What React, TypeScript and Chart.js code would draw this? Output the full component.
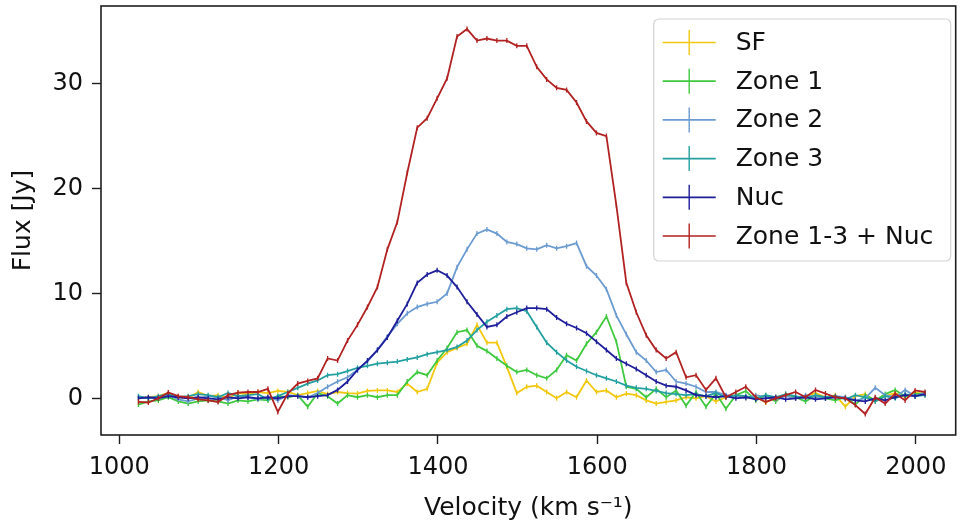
import React, { useEffect, useRef } from "react";
import { Chart, registerables } from "chart.js";

Chart.register(...registerables);

// Velocity channels (km/s)
const velocity = [
  1024, 1036.5, 1049, 1061.5, 1074, 1086.5, 1099, 1111.5, 1124, 1136.5,
  1149, 1161.5, 1174, 1186.5, 1199, 1211.5, 1224, 1236.5, 1249, 1261.5,
  1274, 1286.5, 1299, 1311.5, 1324, 1336.5, 1349, 1361.5, 1374, 1386.5,
  1399, 1411.5, 1424, 1436.5, 1449, 1461.5, 1474, 1486.5, 1499, 1511.5,
  1524, 1536.5, 1549, 1561.5, 1574, 1586.5, 1599, 1611.5, 1624, 1636.5,
  1649, 1661.5, 1674, 1686.5, 1699, 1711.5, 1724, 1736.5, 1749, 1761.5,
  1774, 1786.5, 1799, 1811.5, 1824, 1836.5, 1849, 1861.5, 1874, 1886.5,
  1899, 1911.5, 1924, 1936.5, 1949, 1961.5, 1974, 1986.5, 1999, 2011.5,
];

const sfFlux = [
  0.0, 0.1, 0.2, 0.5, 0.1, 0.0, 0.6, 0.2, 0.3, 0.0,
  0.5, 0.4, 0.6, 0.5, 0.7, 0.6, 0.3, 0.5, 0.7, 0.4,
  0.6, 0.5, 0.45, 0.7, 0.75, 0.75, 0.6, 1.4, 0.6, 0.9,
  3.4, 4.4, 4.8, 5.2, 7.0, 5.3, 5.3, 3.0, 0.5, 1.1,
  1.2, 0.6, 0.0, 0.6, 0.1, 1.7, 0.6, 0.75, 0.1, 0.45,
  0.3, -0.2, -0.5, -0.35, -0.2, 0.1, 0.0, 0.2, -0.3, 0.1,
  0.3, 0.0, 0.2, -0.4, 0.1, 0.3, 0.0, 0.2, 0.5, 0.1,
  0.3, -0.8, 0.2, 0.4, -0.3, 0.2, 0.5, 0.1, 0.6, 0.3,
];

const zone1Flux = [
  -0.6, -0.3, -0.2, 0.1, -0.3, -0.5, -0.3, -0.2, -0.3, -0.5,
  -0.2, -0.3, -0.1, -0.2, 0.2, 0.1, 0.3, -0.8, 0.5, 0.2,
  -0.5, 0.3, 0.1, 0.3, 0.1, 0.3, 0.3, 1.6, 2.5, 2.2,
  3.6, 4.8, 6.3, 6.5, 5.0, 4.5, 3.8, 3.1, 2.5, 2.7,
  2.2, 1.9, 2.7, 4.1, 3.6, 5.2, 6.3, 7.8, 5.4, 1.1,
  0.9, 0.1, 0.9, 0.1, 0.75, -0.7, 0.6, -0.8, 0.45, -1.0,
  0.3, 0.7, -0.2, 0.3, -0.3, 0.4, 0.1, -0.3, 0.3, 0.0,
  -0.2, 0.1, -0.6, 0.3, -0.2, 0.4, 0.8, 0.2, 0.4, 0.5,
];

const zone2Flux = [
  0.1, 0.0, 0.1, 0.3, -0.1, -0.3, 0.0, 0.2, 0.1, -0.2,
  0.2, 0.1, -0.1, 0.1, -0.2, 0.3, 0.2, 0.1, 0.5, 1.1,
  1.6, 2.0, 2.7, 3.5, 4.6, 5.9, 7.1, 8.1, 8.7, 9.0,
  9.2, 10.0, 12.5, 14.2, 15.7, 16.1, 15.7, 14.9, 14.7, 14.3,
  14.2, 14.6, 14.3, 14.5, 14.8, 12.6, 11.7, 10.4, 7.9, 6.1,
  4.4, 3.6, 2.5, 2.7, 1.6, 1.4, 1.1, 0.6, 0.6, 0.3,
  0.2, 0.0, 0.3, 0.1, -0.1, 0.2, 0.0, 0.3, 0.1, 0.0,
  0.2, 0.1, -0.2, 0.0, 1.0, 0.3, 0.1, 0.8, 0.2, 0.5,
];

const zone3Flux = [
  0.2, 0.0, 0.2, 0.4, 0.1, 0.2, 0.4, 0.3, 0.1, 0.5,
  0.2, 0.3, 0.4, -0.1, 0.2, 0.6, 1.0, 1.4, 1.7, 2.2,
  2.3, 2.6, 2.9, 3.1, 3.3, 3.4, 3.5, 3.7, 3.9, 4.2,
  4.4, 4.6, 4.9, 5.5, 6.5, 7.3, 7.9, 8.5, 8.6, 8.3,
  6.8, 5.3, 4.4, 3.6, 3.0, 2.6, 2.2, 1.9, 1.6, 1.2,
  1.0, 0.9, 0.7, 0.5, 0.4, 0.3, 0.4, 0.2, 0.5, 0.1,
  0.3, 0.2, 0.0, 0.3, 0.1, 0.4, 0.2, 0.0, 0.3, 0.1,
  0.2, -0.1, 0.3, 0.1, -0.3, 0.2, 0.0, 0.4, 0.2, 0.3,
];

const nucFlux = [
  0.0, 0.1, 0.0, 0.2, 0.1, 0.0, 0.1, 0.0, -0.1, 0.1,
  0.0, 0.1, 0.0, 0.1, 0.0, 0.2, 0.2, 0.1, 0.2, 0.3,
  0.8, 1.6, 2.7, 3.6, 4.6, 5.8, 7.4, 9.0, 11.0, 11.8,
  12.2, 11.7, 10.6, 9.2, 8.0, 6.8, 7.0, 7.8, 8.2, 8.6,
  8.6, 8.5, 7.7, 7.1, 6.7, 6.2, 5.4, 4.6, 3.8, 3.3,
  2.8, 2.2, 1.6, 1.2, 1.1, 0.75, 0.3, 0.2, 0.1, 0.2,
  0.0, 0.1, -0.1, 0.0, 0.1, -0.1, 0.0, 0.1, -0.1, 0.0,
  0.1, 0.0, -0.2, -0.3, 0.0, -0.2, 0.1, 0.3, 0.2, 0.4,
];

const totalFlux = [
  -0.35, -0.4, 0.0, 0.55, 0.2, 0.1, -0.1, -0.2, -0.35, 0.3,
  0.55, 0.6, 0.6, 0.9, -1.3, 0.45, 1.4, 1.65, 1.9, 3.8,
  3.6, 5.5, 7.0, 8.7, 10.6, 14.2, 16.8, 21.5, 25.8, 26.7,
  28.6, 30.5, 34.5, 35.2, 34.1, 34.3, 34.1, 34.1, 33.6, 33.6,
  31.6, 30.4, 29.6, 29.4, 28.2, 26.4, 25.3, 25.0, 18.4, 11.0,
  8.2, 6.0, 4.6, 3.8, 4.4, 2.0, 2.2, 0.8, 1.9, 0.1,
  0.6, 1.1, 0.1, -0.35, 0.0, 0.3, 0.6, 0.1, 0.8, 0.45,
  0.1, 0.0, -0.65, -1.5, 0.1, -0.5, 0.45, -0.2, 0.75, 0.6,
];

const seriesNames = ["SF", "Zone 1", "Zone 2", "Zone 3", "Nuc", "Zone 1-3 + Nuc"];
const seriesValues = [sfFlux, zone1Flux, zone2Flux, zone3Flux, nucFlux, totalFlux];
const seriesColors = ["#f2c80f", "#3fc93f", "#6b9bd0", "#24a0a0", "#1f1f9c", "#b22222"];

const xTicks = [1000, 1200, 1400, 1600, 1800, 2000];
const yTicks = [0, 10, 20, 30];

const FONT = "'DejaVu Sans', 'Liberation Sans', sans-serif";

const frameAndLegend = {
  id: "frameAndLegend",
  afterDraw(chart: any) {
    const ctx = chart.ctx;
    const a = chart.chartArea;
    ctx.save();
    // axes frame (all four spines)
    ctx.strokeStyle = "#1e1e1e";
    ctx.lineWidth = 1.6;
    ctx.strokeRect(a.left, a.top, a.right - a.left, a.bottom - a.top);

    // legend box, upper right inside the axes
    const bw = 297;
    const bh = 242;
    const bx = a.right - 5 - bw;
    const by = a.top + 13;
    ctx.beginPath();
    if (ctx.roundRect) ctx.roundRect(bx, by, bw, bh, 5);
    else ctx.rect(bx, by, bw, bh);
    ctx.fillStyle = "rgba(255,255,255,0.85)";
    ctx.fill();
    ctx.strokeStyle = "#d4d4d4";
    ctx.lineWidth = 1.2;
    ctx.stroke();

    ctx.font = "25px " + FONT;
    ctx.textBaseline = "middle";
    ctx.textAlign = "left";
    seriesNames.forEach((name, i) => {
      const cy = by + 23.5 + i * 38.7;
      const color = seriesColors[i];
      ctx.strokeStyle = color;
      ctx.lineWidth = 1.7;
      ctx.beginPath();
      ctx.moveTo(bx + 9, cy);
      ctx.lineTo(bx + 62, cy);
      ctx.stroke();
      ctx.lineWidth = 1.4;
      ctx.beginPath();
      ctx.moveTo(bx + 35.5, cy - 12.5);
      ctx.lineTo(bx + 35.5, cy + 12.5);
      ctx.stroke();
      ctx.fillStyle = "#111";
      ctx.fillText(name, bx + 82, cy + 1);
    });
    ctx.restore();
  },
};

export default function App() {
  const canvasRef = useRef<HTMLCanvasElement | null>(null);

  useEffect(() => {
    const canvas = canvasRef.current;
    if (!canvas) return;
    const datasets = seriesNames.map((name, i) => ({
      label: name,
      data: velocity.map((v, k) => ({ x: v, y: seriesValues[i][k] })),
      borderColor: seriesColors[i],
      backgroundColor: seriesColors[i],
      borderWidth: 1.8,
      pointStyle: "line" as const,
      rotation: 90,
      pointRadius: 2.5,
      pointBorderWidth: 1.3,
      pointBorderColor: seriesColors[i],
      tension: 0,
      fill: false,
      order: seriesNames.length - i,
    }));

    const chart = new Chart(canvas, {
      type: "line",
      data: { datasets },
      options: {
        responsive: false,
        devicePixelRatio: 1,
        animation: false,
        events: [],
        layout: { padding: { left: 0, right: 3, top: 6, bottom: 0 } },
        plugins: {
          legend: { display: false },
          tooltip: { enabled: false },
        },
        scales: {
          x: {
            type: "linear",
            min: 977,
            max: 2050,
            afterBuildTicks: (scale: any) => {
              scale.ticks = xTicks.map((v) => ({ value: v }));
            },
            afterFit: (scale: any) => {
              scale.height = 90;
              scale.paddingLeft = 0;
              scale.paddingRight = 0;
            },
            grid: {
              display: true,
              drawOnChartArea: false,
              drawTicks: true,
              tickLength: 9,
              tickColor: "#1e1e1e",
              tickWidth: 1.4,
            },
            border: { display: false },
            ticks: {
              color: "#111",
              padding: 9,
              maxRotation: 0,
              autoSkip: false,
              callback: (v: any) => String(v),
              font: { family: FONT, size: 24 },
            },
            title: {
              display: true,
              text: "Velocity (km s\u207B\u00B9)",
              color: "#111",
              padding: { top: 0, bottom: 2 },
              font: { family: FONT, size: 25 },
            },
          },
          y: {
            type: "linear",
            min: -3.5,
            max: 37.4,
            afterBuildTicks: (scale: any) => {
              scale.ticks = yTicks.map((v) => ({ value: v }));
            },
            afterFit: (scale: any) => {
              scale.width = 101;
              scale.paddingTop = 0;
              scale.paddingBottom = 0;
            },
            grid: {
              display: true,
              drawOnChartArea: false,
              drawTicks: true,
              tickLength: 9,
              tickColor: "#1e1e1e",
              tickWidth: 1.4,
            },
            border: { display: false },
            ticks: {
              color: "#111",
              padding: 9,
              autoSkip: false,
              callback: (v: any) => String(v),
              font: { family: FONT, size: 24 },
            },
            title: {
              display: true,
              text: "Flux [Jy]",
              color: "#111",
              padding: { top: 8, bottom: 0 },
              font: { family: FONT, size: 25 },
            },
          },
        },
      },
      plugins: [frameAndLegend],
    });

    return () => {
      chart.destroy();
    };
  }, []);

  return (
    <div
      style={{
        position: "absolute",
        left: 0,
        top: 0,
        width: 961,
        height: 525,
        background: "#fff",
      }}
    >
      <canvas ref={canvasRef} width={961} height={525} style={{ width: 961, height: 525, display: "block" }} />
    </div>
  );
}
